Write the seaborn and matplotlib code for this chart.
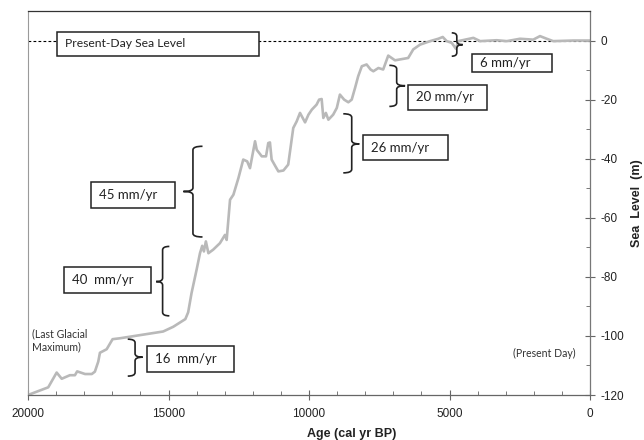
import numpy as np
import pandas as pd
import matplotlib
matplotlib.use("Agg")
import matplotlib.pyplot as plt
import seaborn as sns
from matplotlib.path import Path
from matplotlib.patches import PathPatch, Rectangle
from matplotlib.ticker import MultipleLocator

# ---- data (age in cal yr BP, sea level in m) ----
age = [20000, 19280, 18980, 18800, 18510, 18330, 18250, 17970, 17730, 17620,
       17500, 17440, 17200, 16990, 16730, 15190, 14830, 14400, 14300, 14180,
       14000, 13880, 13800, 13740, 13670, 13580, 13410, 13170, 12990, 12930,
       12870, 12810, 12690, 12510, 12340, 12200, 12100, 11920, 11860, 11680,
       11530, 11450, 11390, 11330, 11200, 11090, 10910, 10740, 10650, 10560,
       10440, 10320, 10140, 10020, 9900, 9730, 9640, 9550, 9490, 9400,
       9310, 9140, 9010, 8900, 8750, 8600, 8480, 8360, 8250, 8120,
       7950, 7810, 7710, 7530, 7360, 7180, 7060, 6940, 6470, 6290,
       6050, 5810, 5690, 5400, 5240, 5100, 4920, 4770, 4690, 4150,
       3910, 3320, 2960, 2490, 2020, 1780, 1540, 1310, 590, 0]
level = [-120, -117.4, -112.4, -114.5, -113.3, -113.3, -112.0, -112.9, -112.9, -112.1,
         -108.7, -105.7, -104.5, -101.1, -100.8, -98.5, -96.9, -94.3, -92.0, -85.5,
         -77.6, -72.0, -69.5, -71.4, -68.0, -72.0, -70.8, -68.6, -65.8, -67.5,
         -60.7, -53.9, -52.2, -46.5, -40.3, -40.9, -43.2, -34.1, -37.0, -39.2,
         -39.2, -34.7, -34.5, -40.3, -42.5, -44.3, -44.0, -42.0, -35.8, -29.6,
         -27.4, -24.5, -27.7, -25.1, -23.4, -21.7, -20.0, -19.8, -26.2, -24.5,
         -26.8, -25.1, -22.8, -18.3, -20.0, -20.9, -20.0, -16.0, -12.1, -8.7,
         -8.1, -9.8, -10.4, -9.3, -9.8, -5.1, -5.9, -6.7, -5.9, -3.0,
         -1.4, -0.6, -0.2, 0.6, 1.2, -0.2, -0.8, -2.8, -0.2, 0.9,
         -0.2, 0.1, -0.2, 0.6, 0.3, 1.5, 0.6, -0.2, 0.0, 0.0]

x_ticks = [20000, 15000, 10000, 5000, 0]
y_ticks = [0, -20, -40, -60, -80, -100, -120]

# rate annotations: label, box (age_left, age_right, top, bottom), brace (x, top, bottom, mid, hook, tip)
rate_labels = ["16  mm/yr", "40  mm/yr", "45 mm/yr", "26 mm/yr", "20 mm/yr", "6 mm/yr"]
rate_boxes = [(15780, 12660, -103.4, -112.1),
              (18720, 15620, -76.8, -85.5),
              (17760, 14770, -48.0, -56.7),
              (8090, 5040, -31.9, -40.6),
              (6490, 3650, -14.9, -23.6),
              (4210, 1360, -4.7, -10.6)]
rate_braces = [(16190, -101.1, -113.6, -107.2, 16450, 15920),
               (15210, -69.7, -93.2, -81.6, 14970, 15440),
               (14130, -35.8, -66.5, -51.1, 13790, 14470),
               (8480, -24.8, -44.8, -35.0, 8780, 8210),
               (6880, -8.4, -22.3, -15.3, 7140, 6580),
               (4740, 2.6, -5.3, -1.4, 4920, 4530)]

df = pd.DataFrame({"age": age, "level": level})

sns.set_style("white")
plt.rcParams["font.family"] = ["Liberation Sans", "DejaVu Sans"]

fig = plt.figure(figsize=(6.44, 4.40), dpi=100)
ax = fig.add_axes([28 / 644, 45 / 440, 562 / 644, 384 / 440])

# present-day dashed line
ax.axhline(0, color="black", lw=0.8, ls=(0, (2.5, 2)), zorder=1)

sns.lineplot(data=df, x="age", y="level", ax=ax, sort=False, color="#b9b9b9",
             lw=1.9, zorder=2)

ax.set_xlim(20000, 0)
ax.set_ylim(-120, 10)

# spines
for s in ["left", "top"]:
    ax.spines[s].set_visible(True)
ax.spines["left"].set_color("#9a9a9a")
ax.spines["left"].set_linewidth(0.8)
ax.spines["top"].set_color("#333333")
ax.spines["top"].set_linewidth(0.9)
ax.spines["right"].set_color("#777777")
ax.spines["right"].set_linewidth(0.9)
ax.spines["bottom"].set_color("#666666")
ax.spines["bottom"].set_linewidth(0.9)

ax.yaxis.tick_right()
ax.yaxis.set_label_position("right")
ax.set_xticks(x_ticks)
ax.set_xticklabels([str(v) for v in x_ticks])
ax.set_yticks(y_ticks)
ax.set_yticklabels([str(v) for v in y_ticks])
ax.xaxis.set_minor_locator(MultipleLocator(1000))
ax.yaxis.set_minor_locator(MultipleLocator(10))
ax.tick_params(axis="both", which="major", direction="inout", length=7, width=0.8,
               color="#666666", labelsize=8.5, labelcolor="#222222")
ax.tick_params(axis="y", which="major", pad=4, right=True, left=False)
ax.tick_params(axis="x", which="major", pad=6, bottom=True)
ax.tick_params(axis="both", which="minor", direction="in", length=3, width=0.7,
               color="#777777")
ax.tick_params(axis="y", which="minor", right=True, left=False)
ax.tick_params(axis="x", which="minor", bottom=True)

ax.set_xlabel("")
ax.set_ylabel("")
fig.text(352 / 644, 1 - 434 / 440, "Age (cal yr BP)", ha="center", va="center",
         fontsize=9, fontweight="bold", color="#222222")
fig.text(637 / 644, 1 - 203 / 440, "Sea  Level  (m)", ha="center", va="center",
         rotation=90, fontsize=9, fontweight="bold", color="#222222")

box_font = ["Lato", "DejaVu Sans"]

# Present-Day Sea Level box
ax.add_patch(Rectangle((11780, -5.08), 18970 - 11780, 3.05 + 5.08, facecolor="white",
                       edgecolor="#222222", lw=1.1, zorder=4))
ax.annotate("Present-Day Sea Level", xy=(18970, -1.0), xytext=(6, 0),
            textcoords="offset points", ha="left", va="center", fontsize=8.7,
            family=box_font, color="#222222", zorder=5)

def brace(ax, x, top, bot, mid, hook, tip, d=1.2):
    verts = [(hook, top), (x, top), (x, top - d),
             (x, mid + d), (x, mid), (tip, mid),
             (x, mid), (x, mid - d),
             (x, bot + d), (x, bot), (hook, bot)]
    codes = [Path.MOVETO, Path.CURVE3, Path.CURVE3,
             Path.LINETO, Path.CURVE3, Path.CURVE3,
             Path.CURVE3, Path.CURVE3,
             Path.LINETO, Path.CURVE3, Path.CURVE3]
    ax.add_patch(PathPatch(Path(verts, codes), facecolor="none", edgecolor="#222222",
                           lw=1.2, zorder=4))

for lab, (a0, a1, t, b), br in zip(rate_labels, rate_boxes, rate_braces):
    ax.add_patch(Rectangle((a1, b), a0 - a1, t - b, facecolor="white",
                           edgecolor="#222222", lw=1.1, zorder=4))
    ax.annotate(lab, xy=(a0, (t + b) / 2), xytext=(6, 0), textcoords="offset points",
                ha="left", va="center", fontsize=9.5, family=box_font,
                color="#222222", zorder=5)
    brace(ax, *br)

ax.text(19870, -101.5, "(Last Glacial\nMaximum)", ha="left", va="center",
        fontsize=7.6, family=box_font, color="#333333", linespacing=1.25)
ax.text(1640, -106.1, "(Present Day)", ha="center", va="center",
        fontsize=7.6, family=box_font, color="#333333")

fig.savefig("out.png", dpi=100)
